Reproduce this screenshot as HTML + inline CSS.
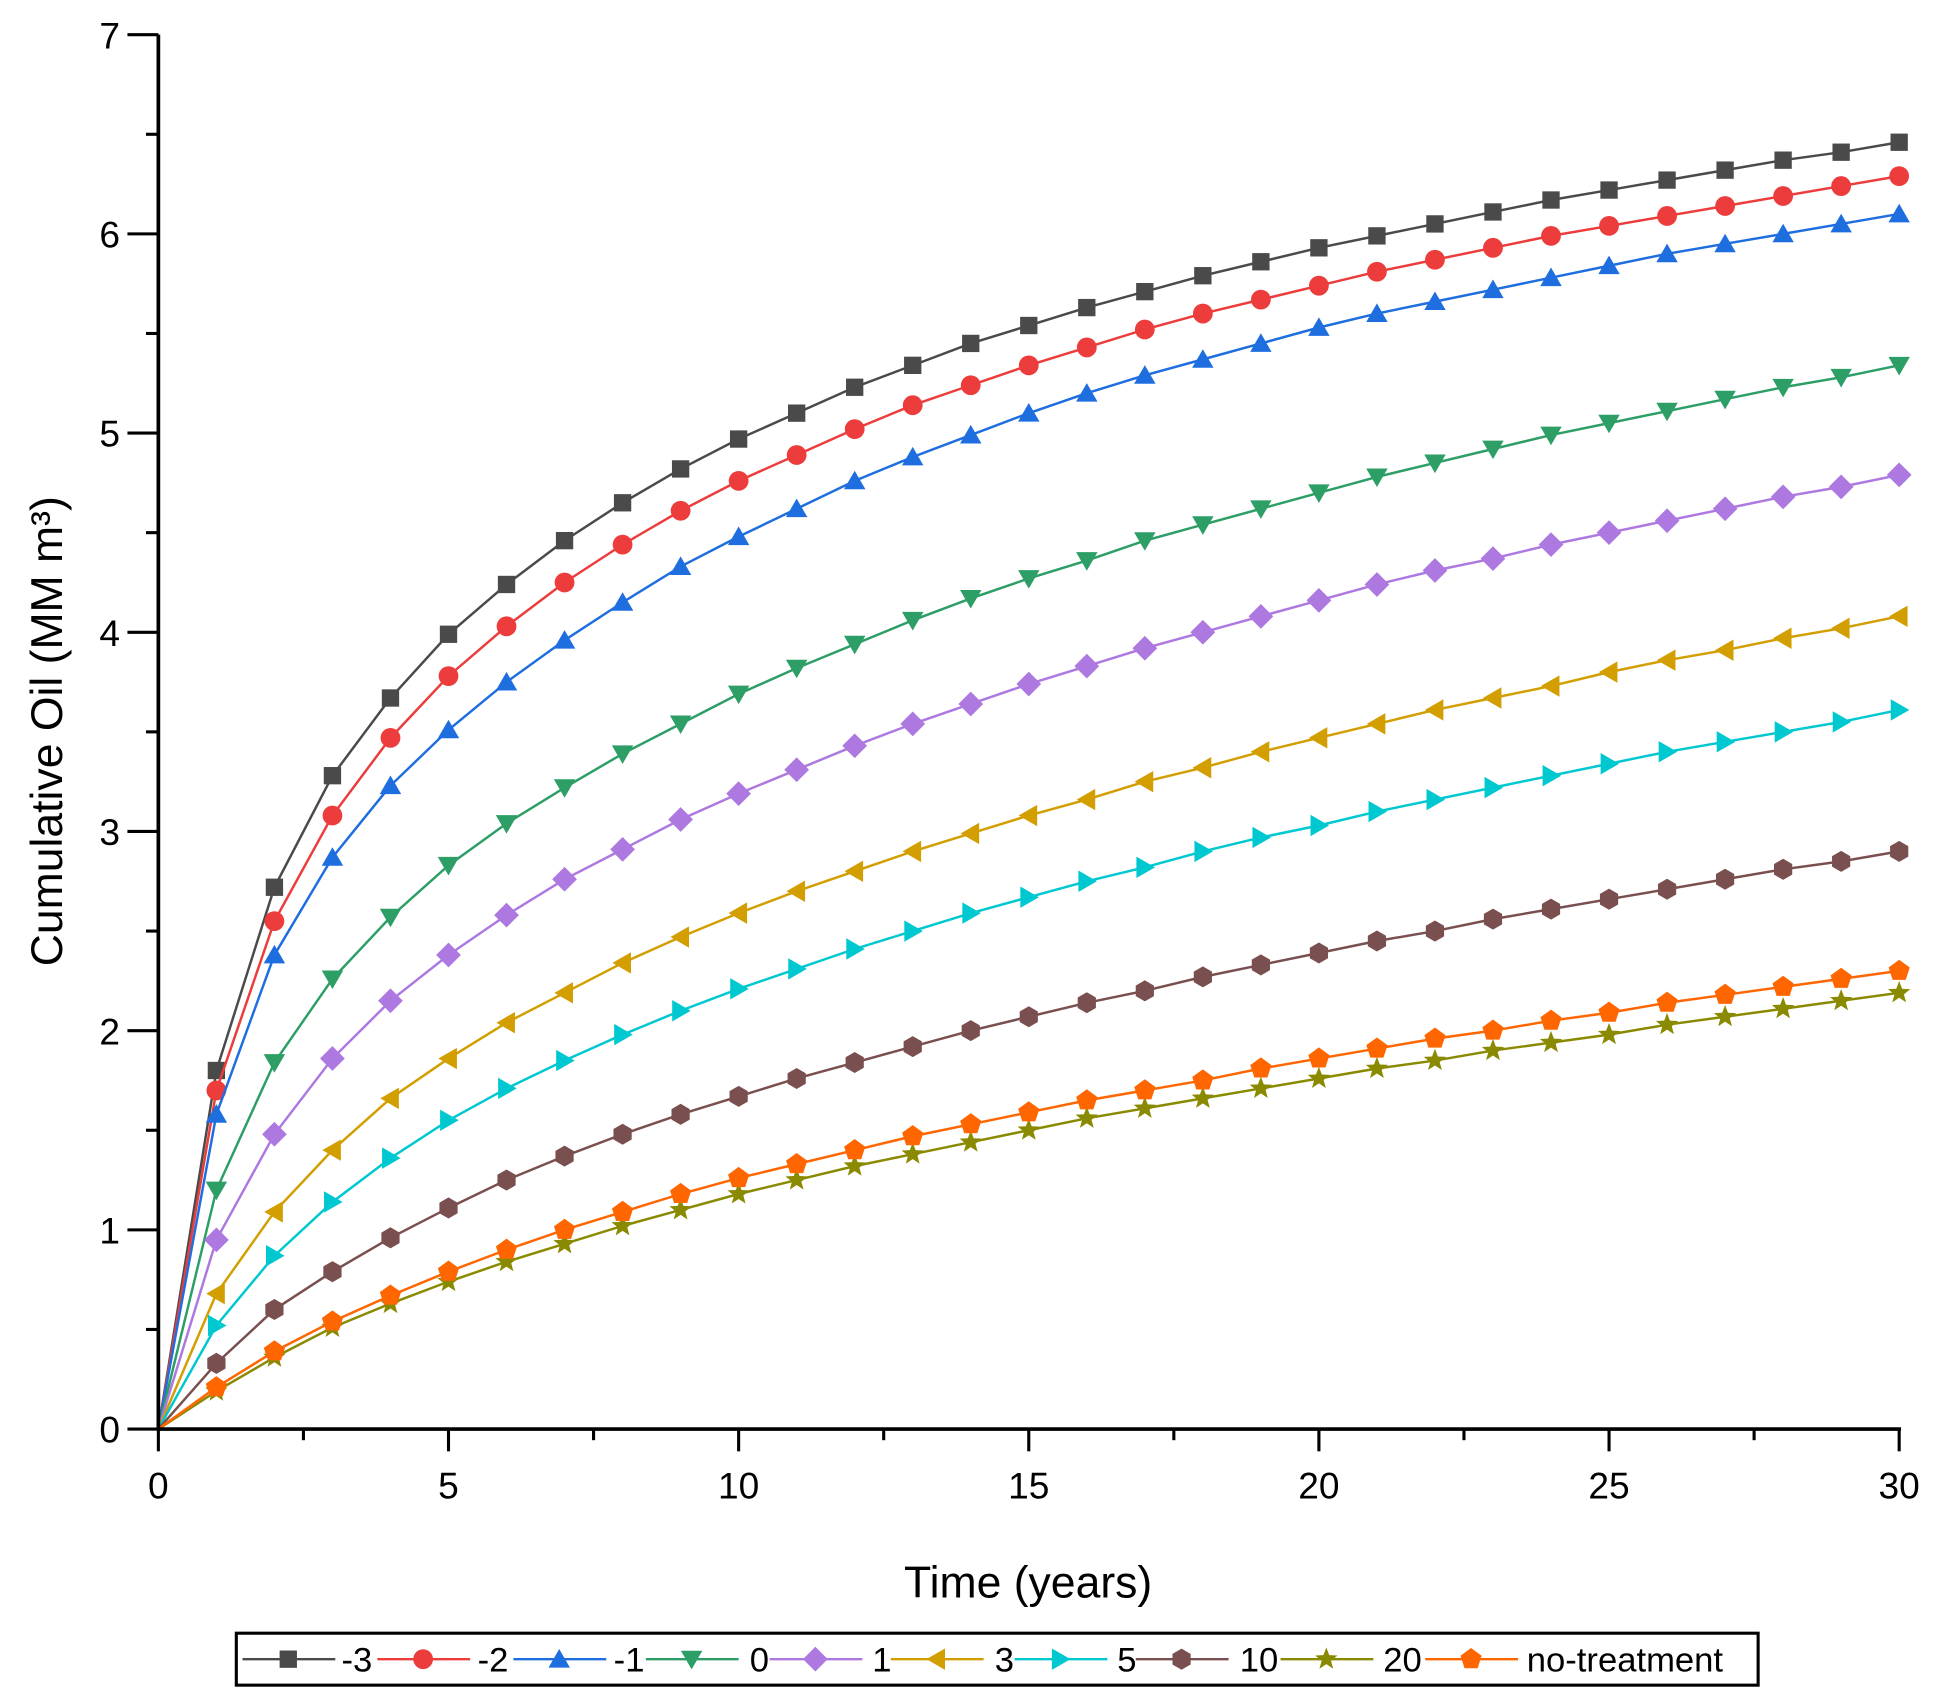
<!DOCTYPE html>
<html><head><meta charset="utf-8"><style>html,body{margin:0;padding:0;background:#fff}svg{display:block}</style></head>
<body>
<svg id="chart" width="1940" height="1705" viewBox="0 0 1568 1378" xmlns="http://www.w3.org/2000/svg" font-family="Liberation Sans, Arial, sans-serif">
<rect width="1568" height="1378" fill="#fff"/>
<g id="plot"></g>
<g id="axes"></g>
<text x="831" y="1291" font-size="36" text-anchor="middle">Time (years)</text>
<text transform="translate(50,591) rotate(-90)" font-size="36" text-anchor="middle">Cumulative Oil (MM m³)</text>
<g id="legend"></g>
</svg>
<script>
const years = Array.from({length:31},(_, i)=>i);
const seriesNames = ["-3","-2","-1","0","1","3","5","10","20","no-treatment"];
const sM3 = [0,1.8,2.72,3.28,3.67,3.99,4.24,4.46,4.65,4.82,4.97,5.1,5.23,5.34,5.45,5.54,5.63,5.71,5.79,5.86,5.93,5.99,6.05,6.11,6.17,6.22,6.27,6.32,6.37,6.41,6.46];
const sM2 = [0,1.7,2.55,3.08,3.47,3.78,4.03,4.25,4.44,4.61,4.76,4.89,5.02,5.14,5.24,5.34,5.43,5.52,5.6,5.67,5.74,5.81,5.87,5.93,5.99,6.04,6.09,6.14,6.19,6.24,6.29];
const sM1 = [0,1.58,2.38,2.87,3.23,3.51,3.75,3.96,4.15,4.33,4.48,4.62,4.76,4.88,4.99,5.1,5.2,5.29,5.37,5.45,5.53,5.6,5.66,5.72,5.78,5.84,5.9,5.95,6.0,6.05,6.1];
const s0 = [0,1.2,1.84,2.26,2.57,2.83,3.04,3.22,3.39,3.54,3.69,3.82,3.94,4.06,4.17,4.27,4.36,4.46,4.54,4.62,4.7,4.78,4.85,4.92,4.99,5.05,5.11,5.17,5.23,5.28,5.34];
const s1 = [0,0.95,1.48,1.86,2.15,2.38,2.58,2.76,2.91,3.06,3.19,3.31,3.43,3.54,3.64,3.74,3.83,3.92,4.0,4.08,4.16,4.24,4.31,4.37,4.44,4.5,4.56,4.62,4.68,4.73,4.79];
const s3 = [0,0.68,1.09,1.4,1.66,1.86,2.04,2.19,2.34,2.47,2.59,2.7,2.8,2.9,2.99,3.08,3.16,3.25,3.32,3.4,3.47,3.54,3.61,3.67,3.73,3.8,3.86,3.91,3.97,4.02,4.08];
const s5 = [0,0.52,0.87,1.14,1.36,1.55,1.71,1.85,1.98,2.1,2.21,2.31,2.41,2.5,2.59,2.67,2.75,2.82,2.9,2.97,3.03,3.1,3.16,3.22,3.28,3.34,3.4,3.45,3.5,3.55,3.61];
const s10 = [0,0.33,0.6,0.79,0.96,1.11,1.25,1.37,1.48,1.58,1.67,1.76,1.84,1.92,2.0,2.07,2.14,2.2,2.27,2.33,2.39,2.45,2.5,2.56,2.61,2.66,2.71,2.76,2.81,2.85,2.9];
const s20 = [0,0.19,0.36,0.51,0.63,0.74,0.84,0.93,1.02,1.1,1.18,1.25,1.32,1.38,1.44,1.5,1.56,1.61,1.66,1.71,1.76,1.81,1.85,1.9,1.94,1.98,2.03,2.07,2.11,2.15,2.19];
const sNo = [0,0.21,0.39,0.54,0.67,0.79,0.9,1.0,1.09,1.18,1.26,1.33,1.4,1.47,1.53,1.59,1.65,1.7,1.75,1.81,1.86,1.91,1.96,2.0,2.05,2.09,2.14,2.18,2.22,2.26,2.3];
const xTicks = [0,5,10,15,20,25,30];
const yTicks = [0,1,2,3,4,5,6,7];

const allSeries = [sM3,sM2,sM1,s0,s1,s3,s5,s10,s20,sNo];
const colors = ["#4a4a4a","#ec3c3c","#1f6ee0","#2c9e66","#ad78e0","#d29e00","#00c8d0","#7a4f4f","#8a8a00","#ff6600"];
const shapes = ["square","circle","up","down","diamond","left","right","hex","star","pent"];

const X0=128,X1=1535,Y0=1155,Y1=28;
const xs = v => X0 + (v-0)/(30-0)*(X1-X0);
const ys = v => Y0 - (v-0)/(7-0)*(Y0-Y1);
const NS="http://www.w3.org/2000/svg";
function mk(tag, attrs, parent){const e=document.createElementNS(NS,tag);for(const k in attrs)e.setAttribute(k,attrs[k]);parent.appendChild(e);return e;}

function poly(n, r, rot, cx, cy){let p=[];for(let i=0;i<n;i++){const a=rot+i*2*Math.PI/n;p.push((cx+r*Math.cos(a)).toFixed(2)+","+(cy+r*Math.sin(a)).toFixed(2));}return p.join(" ");}
function marker(shape, cx, cy, color, parent){
  const r=8.5; let e;
  if(shape==="square") e=mk("rect",{x:cx-7,y:cy-7,width:14,height:14,fill:color},parent);
  else if(shape==="circle") e=mk("circle",{cx:cx,cy:cy,r:8,fill:color},parent);
  else if(shape==="up") e=mk("polygon",{points:poly(3,r+1.5,-Math.PI/2,cx,cy+1.8),fill:color},parent);
  else if(shape==="down") e=mk("polygon",{points:poly(3,r+1.5,Math.PI/2,cx,cy-1.8),fill:color},parent);
  else if(shape==="left") e=mk("polygon",{points:poly(3,r+1.5,Math.PI,cx+1.8,cy),fill:color},parent);
  else if(shape==="right") e=mk("polygon",{points:poly(3,r+1.5,0,cx-1.8,cy),fill:color},parent);
  else if(shape==="diamond") e=mk("polygon",{points:poly(4,r+1.5,-Math.PI/2,cx,cy),fill:color},parent);
  else if(shape==="hex") e=mk("polygon",{points:poly(6,r,-Math.PI/2,cx,cy),fill:color},parent);
  else if(shape==="pent") e=mk("polygon",{points:poly(5,r+0.5,-Math.PI/2,cx,cy),fill:color},parent);
  else if(shape==="star"){let p=[];for(let i=0;i<10;i++){const a=-Math.PI/2+i*Math.PI/5;const rr=i%2?4:9.5;p.push((cx+rr*Math.cos(a)).toFixed(2)+","+(cy+rr*Math.sin(a)).toFixed(2));}e=mk("polygon",{points:p.join(" "),fill:color},parent);}
  return e;
}

const plot=document.getElementById("plot");
allSeries.forEach((vals,si)=>{
  const g=mk("g",{},plot);
  
  
  const pts=vals.map((v,i)=>xs(years[i]).toFixed(2)+","+ys(v).toFixed(2)).join(" ");
  const line=mk("polyline",{points:pts,fill:"none",stroke:colors[si],"stroke-width":2},g);
  
  
  vals.forEach((v,i)=>{ if(i===0) return;
    const m=marker(shapes[si],xs(years[i]),ys(v),colors[si],g);
    
    
  });
});

const axes=document.getElementById("axes");
mk("line",{x1:X0,y1:Y0,x2:X1+1.5,y2:Y0,stroke:"#000","stroke-width":3},axes);
mk("line",{x1:X0,y1:Y0+1.5,x2:X0,y2:Y1,stroke:"#000","stroke-width":3},axes);
for(let v=0; v<=30; v+=2.5){
  const major = xTicks.includes(v);
  mk("line",{x1:xs(v),y1:Y0,x2:xs(v),y2:Y0+(major?18:9),stroke:"#000","stroke-width":2.5},axes);
}
xTicks.forEach(v=>{
  const t=mk("text",{x:xs(v),y:Y0+56,"font-size":30,"text-anchor":"middle"},axes);
  t.textContent=v;
  
  
});
for(let v=0; v<=7; v+=0.5){
  const major = yTicks.includes(v);
  mk("line",{x1:X0,y1:ys(v),x2:X0-(major?25:10),y2:ys(v),stroke:"#000","stroke-width":2.5},axes);
}
yTicks.forEach(v=>{
  const t=mk("text",{x:X0-31,y:ys(v)+11,"font-size":30,"text-anchor":"end"},axes);
  t.textContent=v;
  
  
});

const legend=document.getElementById("legend");
mk("rect",{x:191,y:1320,width:1230,height:42,fill:"#fff",stroke:"#000","stroke-width":2.5},legend);
const lineStarts=[196,305,415,522,622,720,820,918,1035,1152];
const textX=[276,386,496,606,705,804,903,1002,1118,1234];
seriesNames.forEach((n,i)=>{
  const g=mk("g",{},legend);
  
  
  mk("line",{x1:lineStarts[i],y1:1341,x2:lineStarts[i]+75,y2:1341,stroke:colors[i],"stroke-width":2},g);
  marker(shapes[i],lineStarts[i]+37,1341,colors[i],g);
  const t=mk("text",{x:textX[i],y:1351,"font-size":28},g);
  t.textContent=n;
});
</script>
</body></html>
